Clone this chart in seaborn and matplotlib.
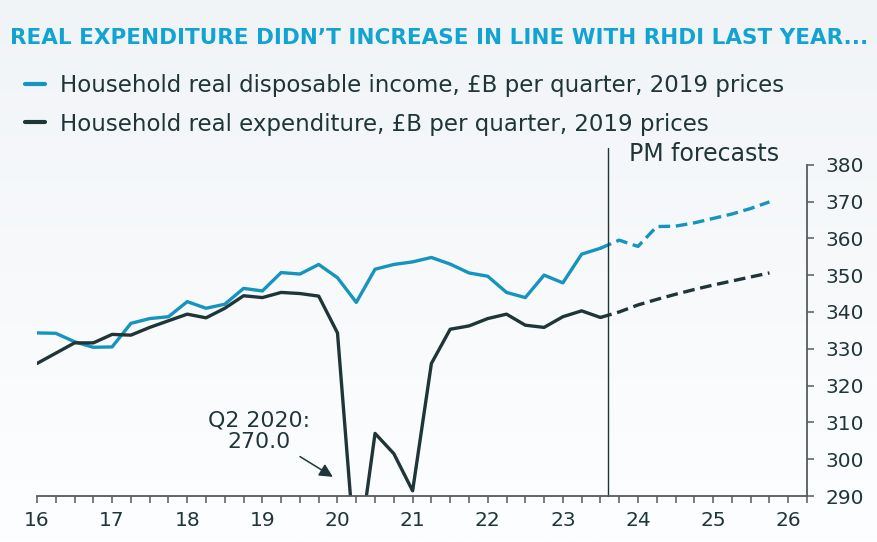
import numpy as np
import pandas as pd
import seaborn as sns
import matplotlib.pyplot as plt
from matplotlib.ticker import MultipleLocator
from matplotlib.lines import Line2D

# Quarterly positions on the year axis (16 = Q1 2016)
quarters_actual = np.arange(16, 23.5001, 0.25)
quarters_forecast = np.arange(23.75, 25.7501, 0.25)

# Household real disposable income, GBP bn per quarter, 2019 prices
rhdi_actual = [334.3, 334.2, 331.9, 330.4, 330.5, 336.9, 338.2, 338.7, 342.8, 341.0,
               342.1, 346.4, 345.7, 350.7, 350.3, 352.9, 349.3, 342.6, 351.6, 352.9,
               353.6, 354.8, 353.0, 350.6, 349.7, 345.3, 343.9, 350.0, 347.9, 355.7, 357.3]
rhdi_forecast = [359.5, 357.8, 363.2, 363.3, 364.2, 365.4, 366.6, 368.1, 369.9]

# Household real expenditure
spend_actual = [326.0, 328.8, 331.6, 331.6, 333.9, 333.7, 335.8, 337.6, 339.4, 338.4,
                341.0, 344.4, 343.9, 345.3, 345.0, 344.3, 334.3, 270.0, 307.0, 301.5,
                291.4, 326.0, 335.3, 336.2, 338.2, 339.4, 336.4, 335.8, 338.7, 340.3, 338.5]
spend_forecast = [340.0, 341.9, 343.4, 344.8, 346.1, 347.3, 348.4, 349.5, 350.6]

BLUE = "#1594c0"
DARK = "#1f3538"
TITLE = "#12a3d2"

sns.set_style("white")
plt.rcParams['font.family'] = ['DejaVu Sans']

actual = pd.DataFrame({'t': quarters_actual, 'rhdi': rhdi_actual, 'spend': spend_actual})
# forecast lines continue from the last actual quarter
forecast = pd.DataFrame({
    't': np.concatenate([[quarters_actual[-1]], quarters_forecast]),
    'rhdi': [rhdi_actual[-1]] + rhdi_forecast,
    'spend': [spend_actual[-1]] + spend_forecast,
})

fig = plt.figure(figsize=(8.78, 5.42), dpi=100)

# soft grey-to-white background
bg = fig.add_axes([0, 0, 1, 1], zorder=-10)
grad = np.linspace(0, 1, 256).reshape(-1, 1)
bg.imshow(grad, aspect='auto', cmap=sns.blend_palette(["#f1f4f7", "#fdfeff"], as_cmap=True),
          extent=[0, 1, 0, 1], origin='upper')
bg.axis('off')

ax = fig.add_axes([37 / 878, 46 / 542, 770 / 878, 331.3 / 542])
ax.patch.set_alpha(0)

dash = (0, (3.5, 1.7))
sns.lineplot(data=actual, x='t', y='rhdi', color=BLUE, lw=2.4, ax=ax)
sns.lineplot(data=actual, x='t', y='spend', color=DARK, lw=2.4, ax=ax)
sns.lineplot(data=forecast, x='t', y='rhdi', color=BLUE, lw=2.4, ax=ax, linestyle=dash)
sns.lineplot(data=forecast, x='t', y='spend', color=DARK, lw=2.4, ax=ax, linestyle=dash)

ax.set_xlim(16, 26.25)
ax.set_ylim(290, 380)
ax.set_xlabel('')
ax.set_ylabel('')

ax.xaxis.set_major_locator(MultipleLocator(1))
ax.xaxis.set_minor_locator(MultipleLocator(0.25))
ax.yaxis.set_major_locator(MultipleLocator(10))
ax.yaxis.tick_right()
ax.xaxis.set_major_formatter(lambda v, p: f"{v:.0f}")

for s in ['left', 'top']:
    ax.spines[s].set_visible(False)
for s in ['right', 'bottom']:
    ax.spines[s].set_color("#555b5e")
    ax.spines[s].set_linewidth(1.3)

ax.tick_params(axis='both', which='both', direction='out', length=5, width=1.1,
               color="#555b5e", labelsize=14.5, labelcolor=DARK)
ax.tick_params(axis='x', which='both', bottom=True, pad=6)
ax.tick_params(axis='y', right=True, left=False, pad=8)

# forecast divider
ax.axvline(23.6, ymin=0, ymax=1.05, color=DARK, lw=1, clip_on=False)
ax.text(23.88, 382.8, "PM forecasts", fontsize=17, color=DARK, va='center', ha='left')

# annotation for the off-scale trough
ax.text(18.96, 307.7, "Q2 2020:\n270.0", fontsize=15.8, color=DARK, ha='center', va='center',
        linespacing=1.1)
ax.annotate('', xy=(19.97, 294.8), xytext=(19.47, 301.1),
            arrowprops=dict(arrowstyle='-|>', color=DARK, lw=1.1, mutation_scale=20))

fig.text(10 / 878, 1 - 38 / 542, "REAL EXPENDITURE DIDN\u2019T INCREASE IN LINE WITH RHDI LAST YEAR...",
         fontsize=15.5, fontweight='bold', color=TITLE, va='center', ha='left')

handles = [Line2D([], [], color=BLUE, lw=3), Line2D([], [], color=DARK, lw=3)]
labels = ["Household real disposable income, \u00a3B per quarter, 2019 prices",
          "Household real expenditure, \u00a3B per quarter, 2019 prices"]
fig.legend(handles, labels, loc='upper left', bbox_to_anchor=(16 / 878, 1 - 65 / 542),
           borderaxespad=0, frameon=False, fontsize=16.5, handlelength=0.87,
           handletextpad=0.65, labelspacing=0.67, labelcolor=DARK)

plt.savefig('out.png', dpi=100)
